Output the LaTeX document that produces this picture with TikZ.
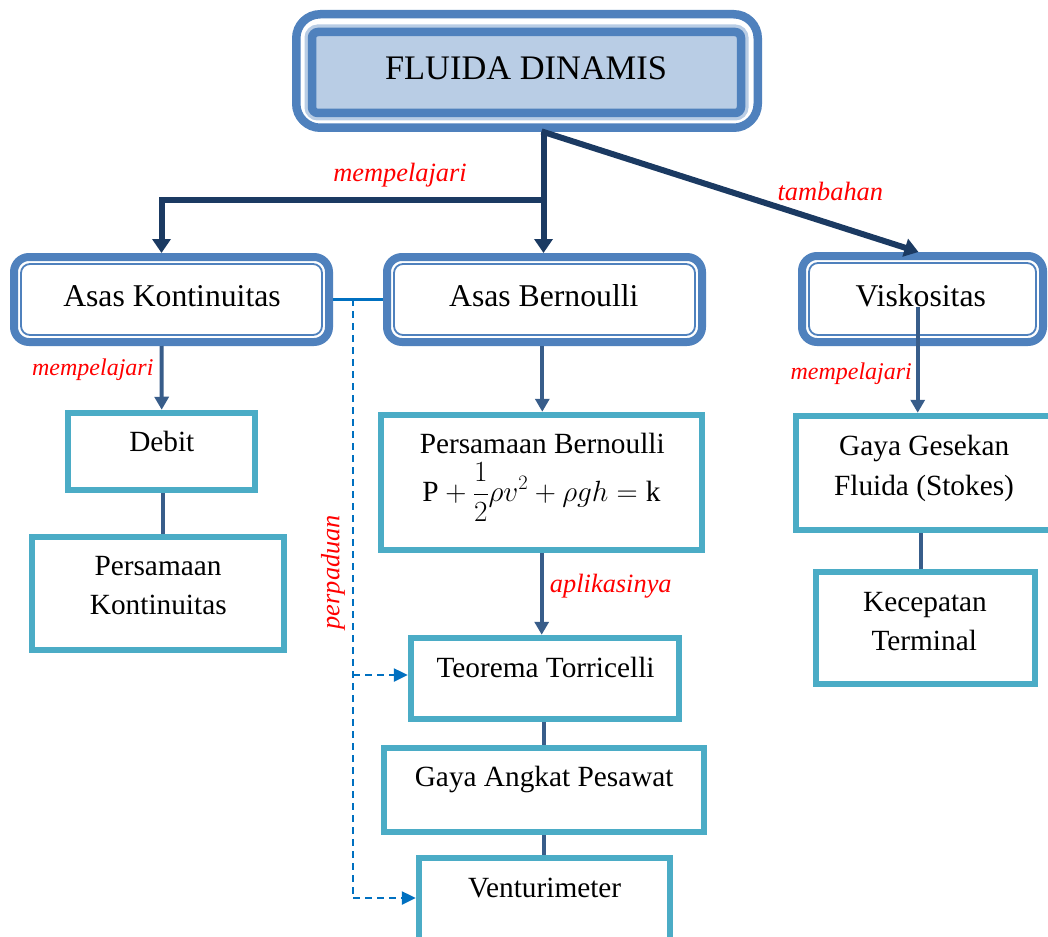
\RequirePackage{fix-cm}
\documentclass[tikz,border=0pt]{standalone}
\usepackage{fontspec}
\setmainfont{Liberation Serif}
\usetikzlibrary{arrows.meta,calc}
\definecolor{cBlue}{HTML}{4F81BD}
\definecolor{cLight}{HTML}{B9CDE5}
\definecolor{cNavy}{HTML}{1B3A62}
\definecolor{cMid}{HTML}{385D8A}
\definecolor{cTeal}{HTML}{4BACC6}
\definecolor{cDash}{HTML}{0070C0}
\newcommand{\fsTop}{\fontsize{34.4}{40}\selectfont}
\newcommand{\fsOne}{\fontsize{31.7}{38}\selectfont}
\newcommand{\fsTwo}{\fontsize{29.3}{36}\selectfont}
\newcommand{\fsEq}{\fontsize{29.3}{36}\selectfont}
\newcommand{\fsLab}{\fontsize{24}{28}\selectfont\itshape}
\newcommand{\fsLabB}{\fontsize{26.4}{30}\selectfont\itshape}
\tikzset{
  dbox/.style={draw=cBlue, line width=8pt, rounded corners=15pt, fill=white, inner sep=0pt},
  tbox/.style={draw=cTeal, line width=6.5pt, fill=white, inner sep=0pt},
  txt/.style={anchor=base, inner sep=0pt, text=black},
  redlab/.style={anchor=base, inner sep=0pt, text=red},
  mainarr/.style={draw=cNavy, line width=6pt, -{Triangle[width=18pt,length=14pt]}},
  subarr/.style={draw=cMid, line width=4pt, -{Triangle[width=14pt,length=13pt]}},
  subline/.style={draw=cMid, line width=4pt},
  dsh/.style={draw=cDash, line width=2.5pt, dash pattern=on 7pt off 5pt},
  dsharr/.style={dsh, -{Triangle[width=13pt,length=14pt]}},
}
\begin{document}
\begin{tikzpicture}[x=1pt,y=-1pt]
\clip (0,0) rectangle (1048,936);
\fill[white] (0,0) rectangle (1048,936);

% top box
\node[draw=cBlue, line width=8.5pt, rounded corners=24pt, fill=white, inner sep=0pt,
      minimum width=461.5pt, minimum height=113.5pt] (fdo) at (527,71) {};
\node[draw=cBlue, line width=8.5pt, rounded corners=6pt, fill=cLight, inner sep=0pt,
      preaction={draw=cLight, line width=15pt},
      minimum width=429pt, minimum height=81pt] (fd) at (526.5,72.5) {};
\node[txt] (fdt) at (526,80) {\fsTop FLUIDA DINAMIS};

% level 1 double boxes
\node[dbox, minimum width=315pt, minimum height=85pt] (ak) at (171.5,299.5) {};
\node[dbox, minimum width=315pt, minimum height=85pt] (ab) at (544.5,299.5) {};
\node[dbox, minimum width=241pt, minimum height=86pt] (vk) at (922.5,299) {};
\foreach \n in {ak,ab,vk}{
  \draw[cBlue, line width=1.8pt, rounded corners=9pt]
    ([shift={(11,11)}]\n.north west) rectangle ([shift={(-11,-11)}]\n.south east);
}
\node[txt] (akt) at (172,306.7) {\fsOne Asas Kontinuitas};
\node[txt] (abt) at (543.8,306.7) {\fsOne Asas Bernoulli};
\node[txt] (vkt) at (920.8,306.7) {\fsOne Viskositas};

% level 2 boxes
\node[tbox, minimum width=187pt, minimum height=77pt] (db) at (161.5,451.5) {};
\node[tbox, minimum width=252pt, minimum height=113pt] (pk) at (158,593.5) {};
\node[tbox, minimum width=321pt, minimum height=135pt] (pb) at (541.5,482.5) {};
\node[tbox, minimum width=268pt, minimum height=81pt] (tt) at (545,678.5) {};
\node[tbox, minimum width=320pt, minimum height=84pt] (ga) at (544,790) {};
\node[tbox, minimum width=251pt, minimum height=92pt] (vm) at (544.5,904) {};
\node[tbox, minimum width=264pt, minimum height=114pt] (gg) at (928,473) {};
\node[tbox, minimum width=219pt, minimum height=112pt] (kt) at (925.5,628) {};

\node[txt] (dbt) at (161.8,451.7) {\fsTwo Debit};
\node[txt] (pkt1) at (158,575.7) {\fsTwo Persamaan};
\node[txt] (pkt2) at (158.3,614.3) {\fsTwo Kontinuitas};
\node[txt] (pbt1) at (542.2,453.3) {\fsTwo Persamaan Bernoulli};
\node[txt] (pbt2) at (541.5,501.7) {\fsEq $\mathrm{P}+\displaystyle\frac{1}{2}\rho v^{2}+\rho gh=\mathrm{k}$};
\node[txt] (ttt) at (545.5,677.3) {\fsTwo Teorema Torricelli};
\node[txt] (gat) at (544.2,786.7) {\fsTwo Gaya Angkat Pesawat};
\node[txt] (vmt) at (544.7,897.3) {\fsTwo Venturimeter};
\node[txt] (ggt1) at (924.2,455) {\fsTwo Gaya Gesekan};
\node[txt] (ggt2) at (924,495) {\fsTwo Fluida (Stokes)};
\node[txt] (ktt1) at (925,611.7) {\fsTwo Kecepatan};
\node[txt] (ktt2) at (924.2,650) {\fsTwo Terminal};

% main connectors
\coordinate (split) at (543.5,132);
\coordinate (branch) at (543.5,200);
\draw[mainarr] (split) -- ([xshift=-1pt]ab.north);
\draw[draw=cNavy, line width=6pt, -{Triangle[width=18pt,length=14pt]}]
  (branch) -- (161.5,200) -- ([xshift=-10pt]ak.north);
\draw[mainarr, shorten <=-2pt] (split) -- ([xshift=-4pt]vk.north);

% red labels
\node[redlab] (l1) at (400,181.7) {\fsLabB mempelajari};
\node[redlab] (l2) at (830.3,200) {\fsLabB tambahan};
\node[redlab] (l3) at (92.8,375) {\fsLab mempelajari};
\node[redlab] (l4) at (851.2,379.3) {\fsLab mempelajari};
\node[redlab] (l5) at (610.8,592.7) {\fsLabB aplikasinya};
\node[text=red, inner sep=0pt, rotate=90] (l6) at (333,572) {\fsLabB perpaduan};

% sub connectors
\draw[subarr] ([xshift=-10pt]ak.south) -- ([xshift=0.2pt]db.north);
\draw[subline] ([xshift=1.8pt]db.south) -- ([xshift=5.3pt]pk.north);
\draw[subarr] ([xshift=-2.2pt]ab.south) -- ([xshift=0.8pt]pb.north);
\draw[subarr] ([xshift=0.2pt]pb.south) -- ([xshift=-3.3pt]tt.north);
\draw[subline] ([xshift=-1pt]tt.south) -- (ga.north);
\draw[subline] (ga.south) -- ([xshift=-0.5pt]vm.north);
\draw[subarr] (917.7,306.7) -- ([xshift=-10.3pt]gg.north);
\draw[subline] ([xshift=-7.3pt]gg.south) -- ([xshift=-4.8pt]kt.north);

% perpaduan connectors
\coordinate (pj) at (353,299);
\coordinate (pt) at (353,675);
\coordinate (pv) at (353,898);
\draw[draw=cDash, line width=3pt] (ak.east) -- (ab.west);
\draw[dsh] (pj) -- (pv);
\draw[dsharr] (pt) -- (tt.west |- pt);
\draw[dsharr] (pv) -- (vm.west |- pv);
\end{tikzpicture}
\end{document}
